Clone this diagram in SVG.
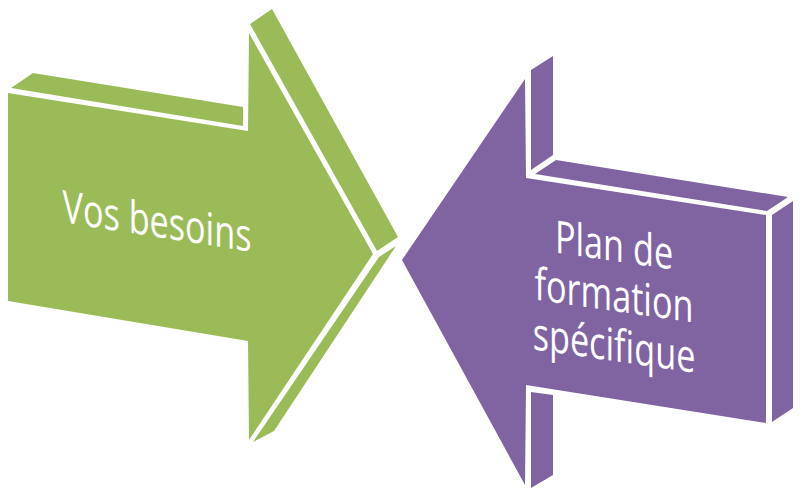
<svg xmlns="http://www.w3.org/2000/svg" width="800" height="500" viewBox="0 0 800 500">
  <style>
    .g { fill: #9BBB59; }
    .p { fill: #8064A2; }
    .lbl { font-family: "Open Sans", "Liberation Sans", sans-serif; font-size: 45px; fill: #ffffff; }
  </style>
  <rect width="800" height="500" fill="#ffffff"/>
  <g id="arrow-besoins">
    <polygon class="g" points="11,88 33,73 243,107 243,126"/>
    <polygon class="g" points="250,24 272,9 398,237 377,251"/>
    <polygon class="g" points="379,257 396,246 274,431 253,442"/>
    <polygon class="g" points="8,93 248,131 249,33 373,254 249,440 248,341 8,301"/>
    <g transform="matrix(0.76,0.118,0,1,157,237)">
      <text class="lbl" x="0" y="0" text-anchor="middle">Vos besoins</text>
    </g>
  </g>
  <g id="arrow-plan">
    <polygon class="p" points="531,70 553,56 553,155 531,170"/>
    <polygon class="p" points="535,174 556,160 788,197 767,211"/>
    <polygon class="p" points="772,215 793,201 793,408 772,422"/>
    <polygon class="p" points="531,392 553,395 553,475 531,488"/>
    <polygon class="p" points="402,260 525,79 526,178 766,215 766,423 526,385 525,485"/>
    <g transform="matrix(0.76,0.11,0,1,614,0)">
      <text class="lbl" x="0" y="261" text-anchor="middle">Plan de</text>
      <text class="lbl" x="0" y="311" text-anchor="middle">formation</text>
      <text class="lbl" x="0" y="361" text-anchor="middle">spécifique</text>
    </g>
  </g>
  <g id="connectors"/>
</svg>
